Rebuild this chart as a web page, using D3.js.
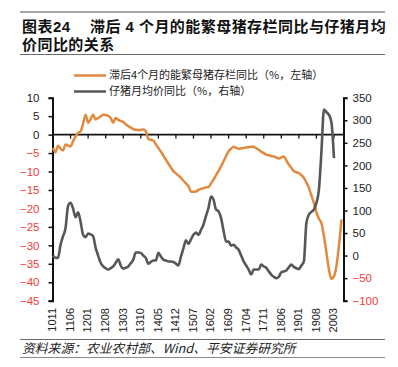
<!DOCTYPE html>
<html><head><meta charset="utf-8">
<script src="https://cdn.jsdelivr.net/npm/d3@7"></script>
<style>
html,body{margin:0;padding:0;background:#fff;}
svg{display:block;}
</style>
</head><body>
<svg id="chart" width="398" height="367"></svg>
<script>
// ---- data ----
const xTickLabels = ["1011","1106","1201","1208","1303","1310","1405","1412","1507","1602","1609","1704","1711","1806","1901","1908","2003"];
// 滞后4个月的能繁母猪存栏同比（%，左轴）, monthly from 2010-11
const sowYoY = [-3.6,-4.8,-3.0,-3.8,-4.3,-2.7,-3.0,-3.2,-1.8,-0.5,0.5,0.9,3.0,5.4,3.2,4.2,5.4,4.1,4.5,4.9,
5.4,5.3,5.1,4.5,3.2,4.5,4.0,3.7,3.4,2.8,2.3,1.9,1.5,1.3,1.2,1.3,1.4,0.9,-1.2,-1.4,
-1.6,-2.6,-3.6,-4.6,-5.7,-6.8,-7.9,-8.9,-9.9,-10.5,-11.1,-11.7,-12.5,-13.2,-14.0,-15.4,-15.5,-15.4,-15.0,-14.7,
-14.5,-14.3,-14.2,-13.2,-12.2,-11.0,-9.8,-8.6,-7.2,-5.8,-4.5,-3.8,-3.3,-3.6,-3.8,-3.7,-3.6,-3.5,-3.4,-3.3,
-3.3,-3.7,-4.1,-4.6,-5.0,-5.4,-5.6,-5.8,-5.9,-6.2,-6.5,-6.2,-5.9,-7.0,-8.1,-9.0,-9.9,-10.2,-10.4,-11.0,
-11.7,-13.0,-14.4,-16.5,-18.5,-21.0,-22.8,-24.0,-27.5,-32.0,-36.6,-39.1,-38.4,-35.5,-30.0,-23.0];
// 仔猪月均价同比（%，右轴）, monthly from 2010-11
const pigletYoY = [0,-5,-5,24,43,61,110,117,104,85,96,75,46,41,49,47,43,17,0,-16,
-24,-28,-31,-28,-24,-16,-8,-22,-29,-27,-24,-17,-9,7,7,6,0,-5,-18,-14,
-11,-11,6,-2,-9,-11,-13,-13,-14,-18,-22,-2,16,34,26,36,46,51,46,57,
69,88,106,131,124,102,98,83,55,31,31,22,24,18,13,0,-13,-22,-31,-42,
-31,-31,-31,-20,-24,-27,-35,-42,-47,-50,-47,-37,-35,-33,-26,-20,-25,-28,-30,-22,
-13,72,91,97,102,117,146,230,324,318,312,295,216];
const leftTicks = [10,5,0,-5,-10,-15,-20,-25,-30,-35,-40,-45];
const rightTicks = [350,300,250,200,150,100,50,0,-50,-100];
const seriesNames = ["滞后4个月的能繁母猪存栏同比（%，左轴）","仔猪月均价同比（%，右轴）"];
const titleLine1a = "图表24";
const titleLine1b = "滞后 4 个月的能繁母猪存栏同比与仔猪月均";
const titleLine2 = "价同比的关系";
const sourceText = "资料来源：农业农村部、Wind、平安证券研究所";

// ---- layout ----
const svg = d3.select("#chart");
const L = 52.5, R = 343.5, T = 97.7, B = 300.7;
const cjk = "'Noto Sans CJK SC','Noto Sans',sans-serif";
const titleFont = "'Liberation Sans','Noto Sans CJK SC',sans-serif";
const num = "'Liberation Sans',Arial,sans-serif";
const orange = "#E3893D", gray = "#575757", red = "#F53A3A";

const x = d3.scaleLinear().domain([0,116]).range([53,344]);
const yL = d3.scaleLinear().domain([-45,10]).range([B,T]);
const yR = d3.scaleLinear().domain([-100,350]).range([B,T]);

// title
svg.append("line").attr("x1",20).attr("x2",385).attr("y1",12).attr("y2",12).attr("stroke","#8a8a8a").attr("stroke-width",1.5);
svg.append("line").attr("x1",20).attr("x2",385).attr("y1",54.5).attr("y2",54.5).attr("stroke","#6a6a6a").attr("stroke-width",1.2);
const tt = svg.append("text").attr("font-family",titleFont).attr("font-weight","bold").attr("font-size",15).attr("letter-spacing",0.45).attr("fill","#111");
tt.append("tspan").attr("x",22).attr("y",31.5).text(titleLine1a);
tt.append("tspan").attr("x",90).attr("y",31.5).text(titleLine1b);
svg.append("text").attr("font-family",titleFont).attr("font-weight","bold").attr("font-size",15).attr("letter-spacing",0.45).attr("fill","#111")
  .attr("x",22).attr("y",49.5).text(titleLine2);

// legend
const legend = [{name:seriesNames[0],color:orange,y:75.5},{name:seriesNames[1],color:gray,y:91.5}];
legend.forEach(d=>{
  svg.append("line").attr("x1",74).attr("x2",106).attr("y1",d.y).attr("y2",d.y).attr("stroke",d.color).attr("stroke-width",2.5);
  svg.append("text").attr("x",109).attr("y",d.y).attr("dy","0.36em").attr("font-family",cjk).attr("font-size",11).attr("fill","#222").text(d.name);
});

// left axis
const la = svg.append("g").attr("transform",`translate(${L},0)`)
  .call(d3.axisLeft(yL).tickValues(leftTicks).tickSize(4).tickPadding(9).tickFormat(d3.format("d")));
la.select(".domain").attr("stroke","#111").attr("stroke-width",2);
la.selectAll(".tick line").attr("stroke","#111").attr("stroke-width",1.5);
la.selectAll(".tick text").attr("font-family",num).attr("font-size",11.5).attr("fill",d=>d<0?red:"#222");

// right axis
const ra = svg.append("g").attr("transform",`translate(${R},0)`)
  .call(d3.axisRight(yR).tickValues(rightTicks).tickSize(4).tickPadding(5).tickFormat(d3.format("d")));
ra.select(".domain").attr("stroke","#111").attr("stroke-width",2);
ra.selectAll(".tick line").attr("stroke","#111").attr("stroke-width",1.5);
ra.selectAll(".tick text").attr("font-family",num).attr("font-size",11.5).attr("fill",d=>d<0?red:"#222");

// zero line (category axis)
const y0 = yL(0);
svg.append("line").attr("x1",L).attr("x2",R).attr("y1",y0).attr("y2",y0).attr("stroke","#111").attr("stroke-width",1.6);
const tickIdx = xTickLabels.map((d,i)=>i*7);
svg.append("g").selectAll("line").data(tickIdx.slice(1)).join("line")
  .attr("x1",d=>x(d)).attr("x2",d=>x(d)).attr("y1",y0).attr("y2",y0+4)
  .attr("stroke","#111").attr("stroke-width",1.3);

// x labels
svg.append("g").selectAll("text").data(xTickLabels).join("text")
  .attr("transform",(d,i)=>`translate(${x(i*7)-0.5},308) rotate(-90)`)
  .attr("text-anchor","end").attr("dy","0.35em")
  .attr("font-family",num).attr("font-size",11).attr("fill","#222").text(d=>d);

// lines
const lineL = d3.line().x((d,i)=>x(i)).y(d=>yL(d)).curve(d3.curveMonotoneX);
const lineR = d3.line().x((d,i)=>x(i)).y(d=>yR(d)).curve(d3.curveMonotoneX);
svg.append("path").datum(sowYoY).attr("d",lineL).attr("fill","none").attr("stroke",orange).attr("stroke-width",2.5).attr("stroke-linejoin","round");
svg.append("path").datum(pigletYoY).attr("d",lineR).attr("fill","none").attr("stroke",gray).attr("stroke-width",2.6).attr("stroke-linejoin","round");

// source
svg.append("line").attr("x1",20).attr("x2",385).attr("y1",339.5).attr("y2",339.5).attr("stroke","#6a6a6a").attr("stroke-width",1.2);
svg.append("line").attr("x1",20).attr("x2",385).attr("y1",357.5).attr("y2",357.5).attr("stroke","#8a8a8a").attr("stroke-width",1.2);
svg.append("text").attr("x",22).attr("y",353).attr("font-family",cjk).attr("font-style","italic").attr("font-size",12.8).attr("fill","#222").text(sourceText);
</script>
</body></html>
